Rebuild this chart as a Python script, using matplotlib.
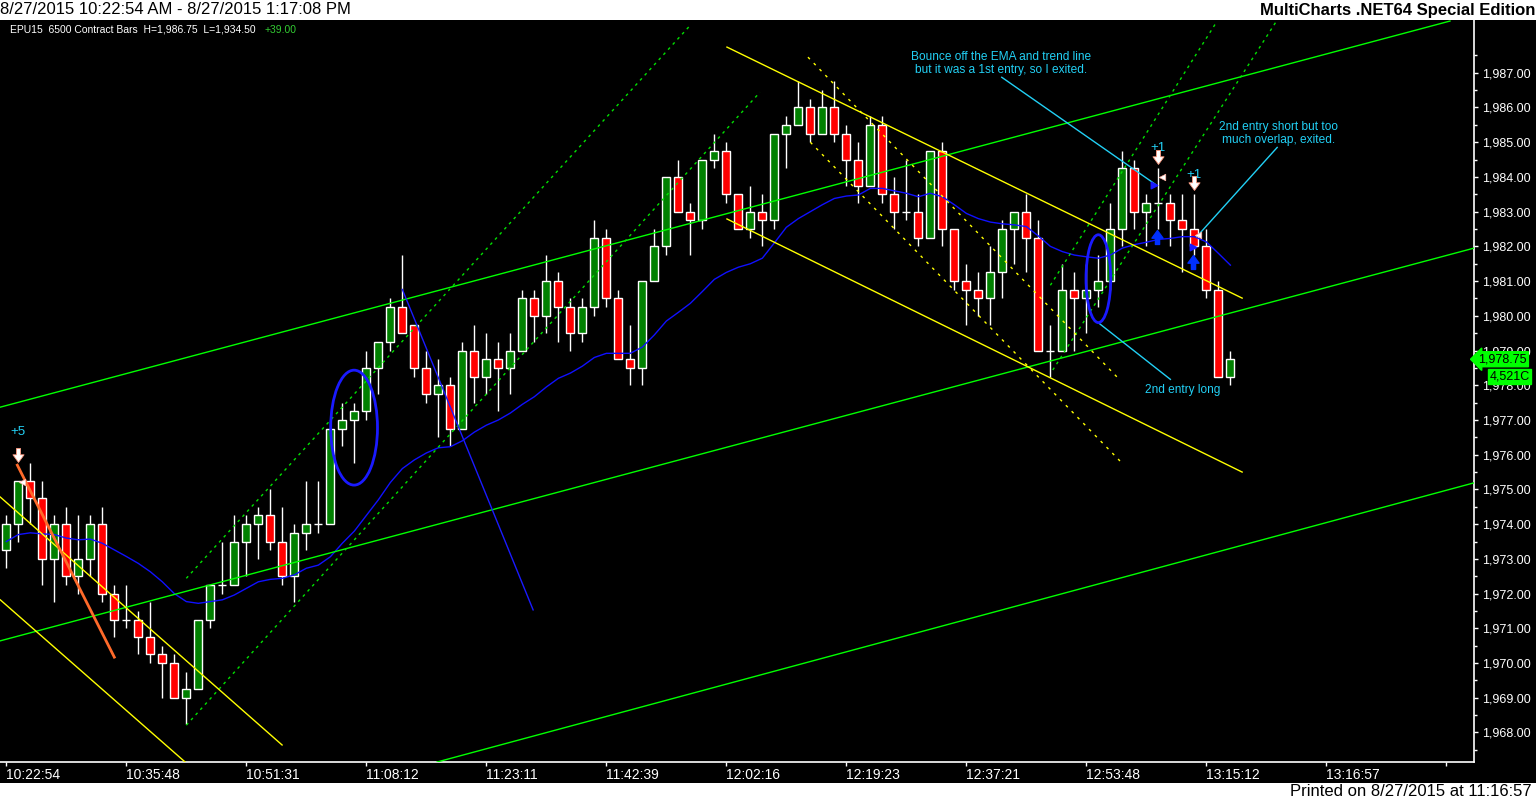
import numpy as np
import matplotlib
matplotlib.use("Agg")
import matplotlib.pyplot as plt
from matplotlib.patches import Rectangle, Ellipse
from matplotlib.path import Path
from matplotlib.transforms import blended_transform_factory

W, H = 1536, 801

# ── bar data (6500 contract bars, EPU15) ─────────────────────────────────────
OPEN = [1973.25, 1974.0, 1975.25, 1974.75, 1973.0, 1974.0, 1972.5, 1973.0, 1974.0, 1972.0,
        1971.25, 1971.25, 1970.75, 1970.25, 1970.0, 1969.0, 1969.25, 1971.25, 1972.25, 1972.25,
        1973.5, 1974.0, 1974.25, 1973.5, 1972.5, 1973.75, 1974.0, 1974.0, 1976.75, 1977.0,
        1977.25, 1978.5, 1979.25, 1980.25, 1979.75, 1978.5, 1977.75, 1978.0, 1976.75, 1979.0,
        1978.25, 1978.75, 1978.5, 1979.0, 1980.5, 1980.0, 1981.0, 1980.25, 1979.5, 1980.25,
        1982.25, 1980.5, 1978.75, 1978.5, 1981.0, 1982.0, 1984.0, 1983.0, 1982.75, 1984.5,
        1984.75, 1983.5, 1982.5, 1983.0, 1982.75, 1985.25, 1985.5, 1986.0, 1985.25, 1986.0,
        1985.25, 1984.5, 1983.75, 1985.5, 1983.5, 1983.0, 1983.0, 1982.25, 1984.75, 1982.5,
        1981.0, 1980.75, 1980.5, 1981.25, 1982.5, 1983.0, 1982.25, 1979.0, 1979.0, 1980.75,
        1980.5, 1980.75, 1981.0, 1982.5, 1984.25, 1983.0, 1983.25, 1983.25, 1982.75, 1982.5,
        1982.0, 1980.75, 1978.25]
HIGH = [1974.25, 1975.25, 1975.75, 1975.25, 1974.25, 1974.5, 1974.25, 1974.25, 1974.5, 1972.25,
        1972.25, 1971.5, 1971.75, 1970.5, 1970.25, 1969.75, 1971.25, 1972.25, 1973.5, 1974.25,
        1974.25, 1974.5, 1975.0, 1974.5, 1974.0, 1975.25, 1975.25, 1976.75, 1977.5, 1977.5,
        1979.0, 1979.25, 1980.5, 1981.75, 1979.75, 1979.0, 1978.75, 1978.25, 1979.25, 1979.75,
        1979.5, 1979.25, 1979.5, 1980.75, 1980.75, 1981.75, 1981.25, 1980.5, 1980.5, 1982.75,
        1982.5, 1980.75, 1979.75, 1981.0, 1982.5, 1984.0, 1984.5, 1983.25, 1984.5, 1985.25,
        1985.0, 1983.5, 1983.75, 1983.5, 1985.25, 1985.75, 1986.75, 1986.25, 1986.5, 1986.75,
        1985.5, 1985.0, 1985.75, 1985.75, 1984.0, 1984.5, 1983.5, 1984.75, 1985.0, 1982.5,
        1981.5, 1981.25, 1982.0, 1982.75, 1983.0, 1983.5, 1982.75, 1979.75, 1981.5, 1981.25,
        1981.5, 1981.75, 1983.25, 1984.75, 1984.5, 1983.5, 1984.25, 1983.5, 1983.5, 1983.5,
        1982.5, 1981.0, 1979.0]
LOW = [1972.75, 1973.5, 1974.0, 1972.25, 1971.75, 1972.25, 1972.0, 1972.5, 1971.75, 1970.75,
       1971.0, 1970.25, 1970.0, 1969.0, 1969.0, 1968.25, 1969.25, 1971.0, 1972.0, 1972.25,
       1972.5, 1973.0, 1973.25, 1972.25, 1971.75, 1973.25, 1973.75, 1974.0, 1976.25, 1975.75,
       1977.0, 1977.75, 1979.0, 1979.5, 1978.25, 1977.5, 1976.5, 1976.25, 1976.75, 1977.5,
       1977.75, 1977.25, 1977.75, 1979.0, 1979.25, 1979.5, 1979.25, 1979.0, 1979.25, 1980.0,
       1980.25, 1978.75, 1978.0, 1978.0, 1981.0, 1981.75, 1983.0, 1981.75, 1982.5, 1984.25,
       1983.25, 1982.5, 1982.25, 1982.0, 1982.5, 1984.25, 1985.5, 1985.0, 1985.25, 1985.0,
       1983.75, 1983.25, 1983.75, 1983.25, 1982.5, 1982.75, 1982.0, 1982.25, 1982.0, 1980.75,
       1979.75, 1980.0, 1979.75, 1980.5, 1981.5, 1981.25, 1979.0, 1978.25, 1979.0, 1979.0,
       1979.5, 1980.25, 1980.75, 1982.0, 1982.5, 1982.0, 1982.5, 1982.0, 1981.25, 1981.75,
       1980.5, 1978.25, 1978.0]
CLOSE = [1974.0, 1975.25, 1974.75, 1973.0, 1974.0, 1972.5, 1973.0, 1974.0, 1972.0, 1971.25,
         1971.25, 1970.75, 1970.25, 1970.0, 1969.0, 1969.25, 1971.25, 1972.25, 1972.25, 1973.5,
         1974.0, 1974.25, 1973.5, 1972.5, 1973.75, 1974.0, 1974.0, 1976.75, 1977.0, 1977.25,
         1978.5, 1979.25, 1980.25, 1979.5, 1978.5, 1977.75, 1978.0, 1976.75, 1979.0, 1978.25,
         1978.75, 1978.5, 1979.0, 1980.5, 1980.0, 1981.0, 1980.25, 1979.5, 1980.25, 1982.25,
         1980.5, 1978.75, 1978.5, 1981.0, 1982.0, 1984.0, 1983.0, 1982.75, 1984.5, 1984.75,
         1983.5, 1982.5, 1983.0, 1982.75, 1985.25, 1985.5, 1986.0, 1985.25, 1986.0, 1985.25,
         1984.5, 1983.75, 1985.5, 1983.5, 1983.0, 1983.0, 1982.25, 1984.75, 1982.5, 1981.0,
         1980.75, 1980.5, 1981.25, 1982.5, 1983.0, 1982.25, 1979.0, 1979.0, 1980.75, 1980.5,
         1980.75, 1981.0, 1982.5, 1984.25, 1983.0, 1983.25, 1983.25, 1982.75, 1982.5, 1982.0,
         1980.75, 1978.25, 1978.75]

# EMA, one value per bar
EMA = [1973.5, 1973.7, 1973.75, 1973.72, 1973.7, 1973.6, 1973.55, 1973.57, 1973.45, 1973.26,
       1973.07, 1972.87, 1972.63, 1972.34, 1972.0, 1971.77, 1971.72, 1971.77, 1971.82, 1971.96,
       1972.15, 1972.34, 1972.41, 1972.44, 1972.54, 1972.73, 1972.82, 1973.06, 1973.45, 1973.8,
       1974.25, 1974.7, 1975.2, 1975.6, 1975.85, 1976.05, 1976.2, 1976.23, 1976.4, 1976.65,
       1976.85, 1977.0, 1977.2, 1977.45, 1977.67, 1977.95, 1978.2, 1978.35, 1978.55, 1978.8,
       1978.92, 1978.92, 1978.92, 1979.1, 1979.45, 1979.85, 1980.1, 1980.36, 1980.7, 1981.05,
       1981.25, 1981.4, 1981.5, 1981.66, 1982.1, 1982.55, 1982.8, 1983.0, 1983.2, 1983.38,
       1983.45, 1983.48, 1983.67, 1983.67, 1983.6, 1983.53, 1983.43, 1983.53, 1983.43, 1983.2,
       1982.95, 1982.8, 1982.7, 1982.65, 1982.62, 1982.57, 1982.3, 1982.0, 1981.85, 1981.75,
       1981.7, 1981.66, 1981.75, 1981.95, 1982.05, 1982.12, 1982.2, 1982.23, 1982.28, 1982.28,
       1982.13, 1981.8, 1981.46]

TICK_BARS   = [0, 10, 20, 30, 40, 50, 60, 70, 80, 90, 100, 110, 120]
TIME_LABELS = ["10:22:54", "10:35:48", "10:51:31", "11:08:12", "11:23:11", "11:42:39",
               "12:02:16", "12:19:23", "12:37:21", "12:53:48", "13:15:12", "13:16:57", ""]

# ── drawings: (bar, price) end points ────────────────────────────────────────
GREEN_LINES  = [((-0.5, 1977.37), (120.3, 1988.49)),
                ((-0.5, 1970.64), (122.3, 1981.95)),
                ((35.9, 1967.15), (122.3, 1975.19))]
GREEN_DASHED = [((15.0, 1972.44), (57.0, 1988.37)),
                ((15.0, 1968.21), (62.8, 1986.44)),
                ((87.0, 1980.88), (100.9, 1988.49)),
                ((87.2, 1978.44), (105.9, 1988.52))]
YELLOW_LINES = [((60.05, 1987.74), (102.98, 1980.51)),
                ((60.05, 1982.79), (102.98, 1975.5)),
                ((-0.5, 1974.78), (22.98, 1967.64)),
                ((-0.5, 1971.82), (14.9, 1967.15))]
YELLOW_DASHED = [((66.8, 1987.45), (92.8, 1978.15)),
                 ((67.0, 1985.0), (92.8, 1975.82))]
ORANGE_LINE  = ((0.92, 1975.7), (9.0, 1970.17))
BLUE_LINE    = ((33.0, 1980.76), (43.9, 1971.53))
CYAN_LINES   = [((82.95, 1986.87), (95.7, 1983.8)),
                ((105.9, 1984.85), (99.2, 1982.28)),
                ((91.0, 1979.8), (97.0, 1978.17))]
# ellipses: center bar, center price, width (bars), height (points)
ELLIPSES = [(28.98, 1976.78, 3.9, 3.31), (91.0, 1981.07, 2.06, 2.53)]

NOTES = [(82.9, 1987.26, "Bounce off the EMA and trend line\nbut it was a 1st entry, so I exited."),
         (106.0, 1985.25, "2nd entry short but too\nmuch overlap, exited."),
         (98.0, 1977.86, "2nd entry long")]
POS_TEXT = [(1.0, 1976.65, "+5"), (96.0, 1984.83, "+1"), (99.0, 1984.05, "+1")]
SELL_ARROWS = [(1.0, 1976.0), (96.0, 1984.57), (99.0, 1983.82)]
BUY_ARROWS  = [(95.9, 1982.27), (98.9, 1981.55)]
EXIT_TRI    = [(1.3, 1975.22), (96.3, 1984.0), (99.3, 1982.33)]
ENTRY_TRI   = [(95.65, 1983.76), (98.85, 1981.97)]

LAST_PRICE = 1978.75
LAST_TAG   = "1,978.75"
VOL_TAG    = "4,521C"

NARROW = ["Liberation Sans Narrow", "Liberation Sans", "DejaVu Sans"]
SANS   = ["Liberation Sans", "DejaVu Sans"]
CYAN   = "#22d0f5"


def seg(ax, pts, **kw):
    (x0, y0), (x1, y1) = pts
    ax.plot([x0, x1], [y0, y1], **kw)


def arrow_path(up=False):
    v = [(-0.3, 1.0), (0.3, 1.0), (0.3, 0.1), (0.8, 0.1), (0.0, -1.0),
         (-0.8, 0.1), (-0.3, 0.1), (-0.3, 1.0)]
    if up:
        v = [(x, -y) for x, y in v]
    return Path(v, [Path.MOVETO] + [Path.LINETO] * 6 + [Path.CLOSEPOLY])


def main():
    fig = plt.figure(figsize=(W / 100, H / 100), dpi=100, facecolor="white")
    fig.patches.append(Rectangle((0, 18 / H), 1, 763 / H, transform=fig.transFigure,
                                 facecolor="black", edgecolor="none", zorder=-10))

    ax = fig.add_axes([0, 39 / H, 1474 / W, 742 / H])
    ax.set_zorder(2)
    ax.set_facecolor("black")
    ax.set_xlim(-0.525, 122.3)
    ax.set_ylim(1967.15, 1988.52)
    for s in ("left", "top"):
        ax.spines[s].set_visible(False)
    for s in ("right", "bottom"):
        ax.spines[s].set_color("white")
        ax.spines[s].set_linewidth(1.2)

    # candles
    x = np.arange(len(OPEN))
    o, h, l, c = map(np.array, (OPEN, HIGH, LOW, CLOSE))
    ax.vlines(x, l, h, color="white", lw=1, zorder=2)
    up = c > o
    dn = c < o
    eq = c == o
    ax.bar(x[up], (c - o)[up], bottom=o[up], width=0.68, color="#008000",
           edgecolor="white", linewidth=1, zorder=3)
    ax.bar(x[dn], (o - c)[dn], bottom=c[dn], width=0.68, color="#ff0000",
           edgecolor="white", linewidth=1, zorder=3)
    ax.hlines(o[eq], x[eq] - 0.34, x[eq] + 0.34, color="white", lw=1, zorder=3)

    # EMA
    ax.plot(x, EMA, color="#1010ff", lw=1, zorder=4)

    # trend lines
    for p in GREEN_LINES:
        seg(ax, p, color="#00ff00", lw=1, zorder=5)
    for p in GREEN_DASHED:
        seg(ax, p, color="#00e000", lw=1, ls=(0, (2, 3)), zorder=5)
    for p in YELLOW_LINES:
        seg(ax, p, color="#ffff00", lw=1, zorder=5)
    for p in YELLOW_DASHED:
        seg(ax, p, color="#ffff00", lw=1, ls=(0, (2, 4)), zorder=5)
    seg(ax, ORANGE_LINE, color="#ff6a2a", lw=2, zorder=5)
    seg(ax, BLUE_LINE, color="#1a1aff", lw=1, zorder=5)
    for p in CYAN_LINES:
        seg(ax, p, color=CYAN, lw=1, zorder=5)
    for cx, cy, ew, eh in ELLIPSES:
        ax.add_patch(Ellipse((cx, cy), ew, eh, fill=False, edgecolor="#1a1aff", lw=2, zorder=5))

    # notes
    for nx, ny, txt in NOTES:
        ax.text(nx, ny, txt, color=CYAN, fontsize=8.6, family=SANS, ha="center",
                va="center", linespacing=1.15, zorder=6)
    for px, py, txt in POS_TEXT:
        ax.text(px, py, txt, color=CYAN, fontsize=9.5, family=SANS, ha="center",
                va="center", zorder=6)

    # trade markers
    sx, sy = zip(*SELL_ARROWS)
    ax.scatter(sx, sy, marker=arrow_path(), s=100, facecolor="white", edgecolor="#ff9a80",
               linewidth=0.6, zorder=7)
    bx, by = zip(*BUY_ARROWS)
    ax.scatter(bx, by, marker=arrow_path(up=True), s=100, facecolor="#0030ff",
               edgecolor="#0030ff", zorder=7)
    tx, ty = zip(*EXIT_TRI)
    ax.scatter(tx, ty, marker="<", s=22, facecolor="white", edgecolor="#ffb0a0", lw=0.5, zorder=7)
    ex, ey = zip(*ENTRY_TRI)
    ax.scatter(ex, ey, marker=">", s=22, facecolor="#1a1aff", edgecolor="#1a1aff", zorder=7)

    # price axis on the right
    ax.yaxis.tick_right()
    ax.set_yticks(np.arange(1968, 1988, 1))
    ax.set_yticks(np.arange(1967.5, 1988.5, 1), minor=True)
    ax.set_yticklabels([f"{v:,.2f}" for v in np.arange(1968, 1988, 1)])
    ax.tick_params(axis="y", which="major", colors="white", length=3, width=1, pad=3,
                   labelsize=9)
    ax.tick_params(axis="y", which="minor", colors="white", length=2, width=1)
    for lbl in ax.get_yticklabels():
        lbl.set_family(SANS)

    ax.set_xticks(TICK_BARS)
    ax.set_xticklabels(TIME_LABELS, ha="left")
    ax.tick_params(axis="x", colors="white", length=3, width=1, pad=1.5, labelsize=10)
    for lbl in ax.get_xticklabels():
        lbl.set_family(NARROW)

    # last price / volume tags
    tr = blended_transform_factory(ax.transAxes, ax.transData)
    ax.text(1.003, LAST_PRICE, LAST_TAG, transform=tr, fontsize=9, family=SANS, color="black",
            ha="left", va="center", clip_on=False, zorder=10,
            bbox=dict(boxstyle="larrow,pad=0.12", fc="#00ff00", ec="#00ff00"))
    ax.text(1.0105, LAST_PRICE - 0.5, VOL_TAG, transform=tr, fontsize=9, family=SANS,
            color="black", ha="left", va="center", clip_on=False, zorder=10,
            bbox=dict(boxstyle="square,pad=0.1", fc="#00ff00", ec="#00ff00"))

    # header / footer texts
    fig.text(0.0, 1 - 10 / H, "8/27/2015 10:22:54 AM - 8/27/2015 1:17:08 PM", fontsize=12,
             family=SANS, color="black", ha="left", va="center")
    fig.text(1 - 1 / W, 1 - 10 / H, "MultiCharts .NET64 Special Edition", fontsize=12,
             family=SANS, weight="bold", color="black", ha="right", va="center")
    fig.text(10 / W, 1 - 30 / H, "EPU15  6500 Contract Bars  H=1,986.75  L=1,934.50",
             fontsize=7.5, family=SANS, color="white", ha="left", va="center")
    fig.text(265 / W, 1 - 30 / H, "+39.00", fontsize=7.5, family=SANS, color="#33cc33",
             ha="left", va="center")
    fig.text(1 - 4 / W, 1 - 792 / H, "Printed on 8/27/2015 at 11:16:57", fontsize=12,
             family=NARROW, color="black", ha="right", va="center")

    fig.savefig("out.png", dpi=100, facecolor="white")
    plt.close(fig)


if __name__ == "__main__":
    main()
